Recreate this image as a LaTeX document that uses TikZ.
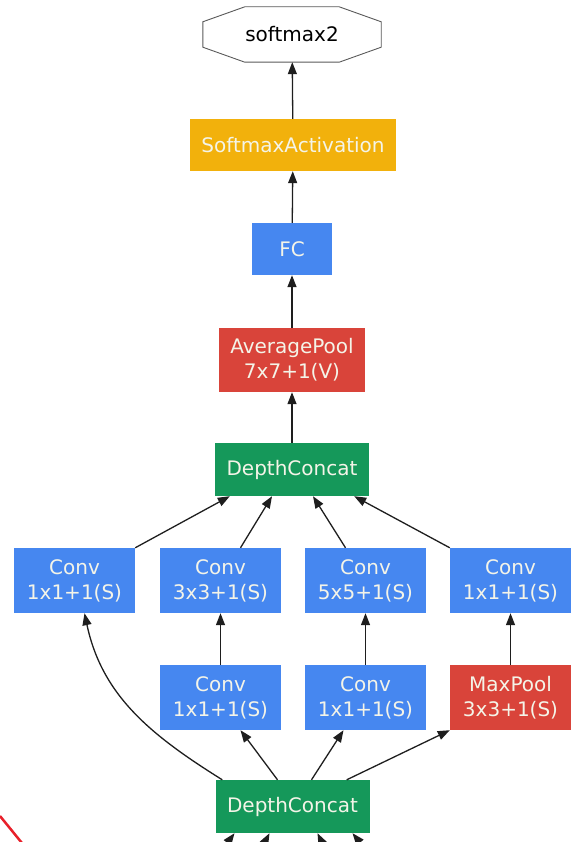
\documentclass[tikz,border=0pt]{standalone}
\usepackage{fontspec}
\setmainfont{DejaVu Sans}
\usetikzlibrary{arrows.meta}

\definecolor{layerblue}{HTML}{4687F0}
\definecolor{layerred}{HTML}{D9443A}
\definecolor{layergreen}{HTML}{15985A}
\definecolor{layeryellow}{HTML}{F2B10C}
\definecolor{layertext}{HTML}{F4F4E8}
\definecolor{edgecol}{HTML}{1E1E1E}
\definecolor{markred}{HTML}{E8202A}

\tikzset{
  x=1pt, y=1pt,
  layer/.style={rectangle, inner sep=0pt, align=center, text=layertext,
    font=\fontsize{20}{25}\selectfont},
  conv/.style={layer, fill=layerblue, minimum width=121pt, minimum height=65pt},
  pool/.style={layer, fill=layerred, minimum width=121pt, minimum height=65pt},
  concat/.style={layer, fill=layergreen, minimum width=154pt, minimum height=53pt},
  link/.style={draw=edgecol, line width=1.3pt, -{Triangle[length=12pt,width=9pt]}},
}

\begin{document}
\begin{tikzpicture}
  \useasboundingbox (0,0) rectangle (572,-842);

  % output and classifier head
  \node[rectangle, minimum width=178pt, minimum height=55pt, inner sep=0pt,
        font=\fontsize{20}{25}\selectfont, text=black] (softmax2) at (292,-34.5) {softmax2};
  \draw[draw=black!65, line width=0.9pt]
    ([xshift=42pt]softmax2.north west) -- ([xshift=-42pt]softmax2.north east)
    -- ([yshift=-15pt]softmax2.north east) -- ([yshift=15pt]softmax2.south east)
    -- ([xshift=-42pt]softmax2.south east) -- ([xshift=42pt]softmax2.south west)
    -- ([yshift=15pt]softmax2.south west) -- ([yshift=-15pt]softmax2.north west) -- cycle;

  \node[layer, fill=layeryellow, minimum width=206pt, minimum height=52pt] (sact) at (293,-145) {SoftmaxActivation};
  \node[layer, fill=layerblue, minimum width=80pt, minimum height=52pt] (fc) at (292,-249) {FC};
  \node[pool, minimum width=146pt, minimum height=64pt] (avg) at (292,-360) {AveragePool\\7x7+1(V)};
  \node[concat] (dc1) at (292,-469.5) {DepthConcat};

  % inception branches
  \node[conv] (c1) at (74.5,-580.5) {Conv\\1x1+1(S)};
  \node[conv] (c2) at (220.5,-580.5) {Conv\\3x3+1(S)};
  \node[conv] (c3) at (365.5,-580.5) {Conv\\5x5+1(S)};
  \node[conv] (c4) at (510.5,-580.5) {Conv\\1x1+1(S)};

  \node[conv] (r2) at (220.5,-697.5) {Conv\\1x1+1(S)};
  \node[conv] (r3) at (365.5,-697.5) {Conv\\1x1+1(S)};
  \node[pool] (mp) at (510.5,-697.5) {MaxPool\\3x3+1(S)};

  \node[concat] (dc2) at (292.5,-806.5) {DepthConcat};

  % head connections
  \draw[link] (sact) -- (softmax2);
  \draw[link] (fc) -- (sact);
  \draw[link] (avg) -- (fc);
  \draw[link] (dc1) -- (avg);

  % branch outputs into the concat
  \draw[link] (c1.north east) -- ([xshift=15pt]dc1.south west);
  \draw[link] ([xshift=20pt]c2.north) -- ([xshift=-20pt]dc1.south);
  \draw[link] ([xshift=-20pt]c3.north) -- ([xshift=21pt]dc1.south);
  \draw[link] (c4.north west) -- ([xshift=-15pt]dc1.south east);

  % inner branch links
  \draw[link] (r2) -- (c2);
  \draw[link] (r3) -- (c3);
  \draw[link] (mp) -- (c4);

  % branch inputs from the lower concat
  \draw[link] ([xshift=7pt]dc2.north west) to[out=148, in=-78] ([xshift=10pt]c1.south);
  \draw[link] ([xshift=-15pt]dc2.north) -- ([xshift=20pt]r2.south);
  \draw[link] ([xshift=19pt]dc2.north) -- ([xshift=-22pt]r3.south);
  \draw[link] ([xshift=-23pt]dc2.north east) -- (mp.south west);

  % incoming edges from the layer below
  \coordinate (in1) at (200,-880);
  \coordinate (in2) at (245,-880);
  \coordinate (in3) at (340,-880);
  \coordinate (in4) at (390,-880);
  \draw[link] (in1) -- ([xshift=-58pt]dc2.south);
  \draw[link] (in2) -- ([xshift=-23pt]dc2.south);
  \draw[link] (in3) -- ([xshift=25pt]dc2.south);
  \draw[link] (in4) -- ([xshift=60pt]dc2.south);

  % red stroke at the lower left corner
  \coordinate (mk1) at (0,-816);
  \coordinate (mk2) at (26,-848);
  \draw[markred, line width=2.5pt] (mk1) -- (mk2);
\end{tikzpicture}
\end{document}
